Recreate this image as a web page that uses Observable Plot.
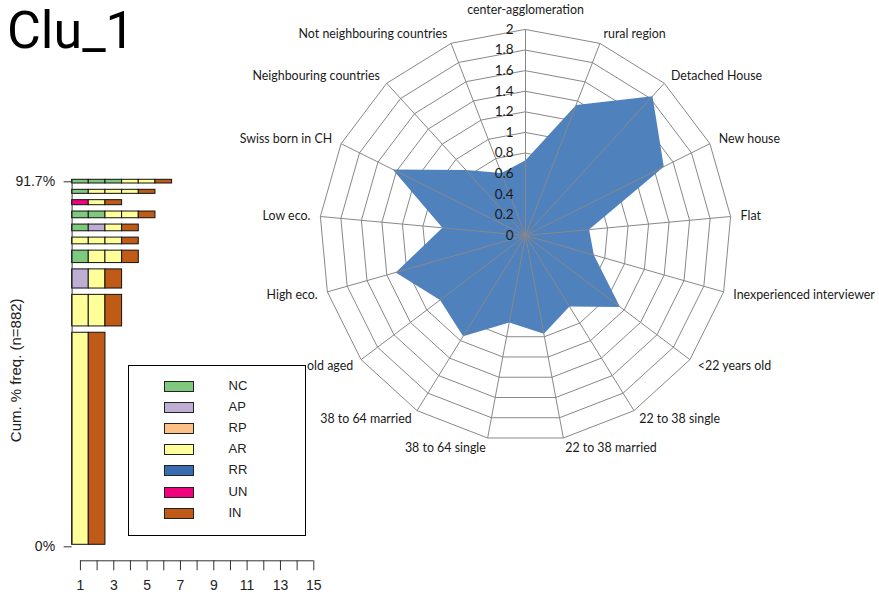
<!DOCTYPE html>
<html><head><meta charset="utf-8">
<script src="https://cdn.jsdelivr.net/npm/d3@7"></script>
<script src="https://cdn.jsdelivr.net/npm/@observablehq/plot@0.6"></script>
<style>
html,body{margin:0;padding:0;background:#fff;}
#root{position:relative;width:879px;height:599px;overflow:hidden;background:#fff;}
#root > *{position:absolute;}
#title{left:7px;top:0px;font-family:Roboto,Lato,sans-serif;font-size:52px;color:#000;line-height:normal;white-space:nowrap;}
#legend{left:127.5px;top:364.5px;width:176px;height:169px;border:1px solid #000;background:#fff;font-family:"Liberation Sans",Arial,sans-serif;font-size:13px;color:#222;}
#legend .item{position:absolute;left:35px;height:12px;}
#legend .sw{position:absolute;left:0;top:0;width:28px;height:9px;border:1px solid #222;}
#legend .lb{position:absolute;left:65px;top:-2px;line-height:14px;}
</style></head><body><div id="root"><div id="title"></div></div>
<script>
// ---- data ----
const title = "Clu_1";
const states = ["NC","AP","RP","AR","RR","UN","IN"];
const stateColors = ["#7FC97F","#BEAED4","#FDC086","#FFFF99","#386CB0","#F0027F","#BF5B17"];
const sequences = ["AR-IN","AR-AR-IN","AP-AR-IN","NC-AR-AR-IN","AR-AR-AR-IN","NC-AP-AR-IN","NC-NC-AR-AR-IN","UN-AR-IN","NC-AR-AR-AR-IN","NC-NC-NC-AR-AR-IN"];
const seqFreq = [63.1,9.4,5.7,3.7,2.0,2.0,2.0,1.5,1.2,1.1];
const nSeq = 882;
const xTicks = [1,2,3,4,5,6,7,8,9,10,11,12,13,14,15];
const radarAxes = ["center-agglomeration","rural region","Detached House","New house","Flat","Inexperienced interviewer","<22 years old","22 to 38 single","22 to 38 married","38 to 64 single","38 to 64 married","old aged","High eco.","Low eco.","Swiss born in CH","Neighbouring countries","Not neighbouring countries"];
const radarValues = [0.73,1.36,1.83,1.50,0.62,0.69,1.15,0.81,0.97,0.86,1.15,1.04,1.31,0.81,1.44,0.86,0.65];
const radarLevels = [0,0.2,0.4,0.6,0.8,1,1.2,1.4,1.6,1.8,2];

const root = document.getElementById("root");
document.getElementById("title").textContent = title;

// ---- sequence frequency plot ----
const gap = 1.88;
const cells = [];
let cum = 0;
sequences.forEach((s, i) => {
  const y1 = cum + i * gap;
  s.split("-").forEach((st, k) => cells.push({x1: k + 0.5, x2: k + 1.5, y1, y2: y1 + seqFreq[i], state: st}));
  cum += seqFreq[i];
});
const cumTotal = d3.sum(seqFreq);
const yTop = cumTotal + (sequences.length - 1) * gap;

const left = Plot.plot({
  width: 330, height: 599,
  marginLeft: 71.6, marginRight: 16.7, marginTop: 179.3, marginBottom: 54.7,
  style: {fontFamily: "'Liberation Sans', Arial, sans-serif", fontSize: "14px", color: "#222", background: "transparent", overflow: "visible"},
  x: {domain: [0.5, 15], axis: null},
  y: {domain: [0, yTop], axis: null},
  color: {domain: states, range: stateColors},
  marks: [
    Plot.rect(cells, {x1: "x1", x2: "x2", y1: "y1", y2: "y2", fill: "state", stroke: "#111", strokeWidth: 1}),
    Plot.ruleX([0.5], {y1: 0, y2: yTop, stroke: "#333"}),
    Plot.axisY([0, yTop], {tickSize: 8, tickPadding: 9, dy: 2, tickFormat: d => d === 0 ? "0%" : cumTotal.toFixed(1) + "%", label: null, stroke: "#333"}),
    Plot.ruleY([0], {x1: 1, x2: 15, dy: 16, stroke: "#333"}),
    Plot.axisX(xTicks, {tickSize: 10, tickPadding: 9, dy: 16, tickFormat: d => d % 2 ? String(d) : "", label: null, stroke: "#333"}),
    Plot.text([`Cum. % freq. (n=${nSeq})`], {frameAnchor: "left", textAnchor: "middle", rotate: -90, dx: -56, dy: 8, fontSize: 15, letterSpacing: 0.5})
  ]
});
left.style.left = "0px"; left.style.top = "0px";
root.appendChild(left);

// legend
const legend = document.createElement("div");
legend.id = "legend";
states.forEach((st, i) => {
  const it = document.createElement("div");
  it.className = "item";
  it.style.top = (15 + i * 21.2) + "px";
  it.innerHTML = `<div class="sw" style="background:${stateColors[i]}"></div><div class="lb">${st}</div>`;
  legend.appendChild(it);
});
root.appendChild(legend);

// ---- radar ----
const pxPerUnit = 103, cx = 295, cy = 235, W = 649, H = 599;
const n = radarAxes.length;
const ang = i => i * 2 * Math.PI / n;
const maxLevel = d3.max(radarLevels);
const ringPts = [];
radarLevels.filter(l => l > 0).forEach(l => radarAxes.forEach((a, i) => ringPts.push({level: l, x: l * Math.sin(ang(i)), y: l * Math.cos(ang(i))})));
const valPts = radarValues.map((v, i) => ({x: v * Math.sin(ang(i)), y: v * Math.cos(ang(i))}));
const spokes = radarAxes.map((a, i) => ({x: maxLevel * Math.sin(ang(i)), y: maxLevel * Math.cos(ang(i))}));
const lr = maxLevel + 10 / pxPerUnit;
const labels = radarAxes.map((a, i) => ({name: a, s: Math.sin(ang(i)), x: lr * Math.sin(ang(i)), y: lr * Math.cos(ang(i))}));

const radar = Plot.plot({
  width: W, height: H, margin: 0,
  style: {fontFamily: "Lato, 'Open Sans', sans-serif", fontSize: "12.4px", color: "#1a1a1a", background: "transparent", overflow: "visible"},
  x: {domain: [-cx / pxPerUnit, (W - cx) / pxPerUnit], range: [0, W], axis: null},
  y: {domain: [-(H - cy) / pxPerUnit, cy / pxPerUnit], range: [H, 0], axis: null},
  marks: [
    Plot.line(ringPts, {x: "x", y: "y", z: "level", curve: "linear-closed", stroke: "#888", strokeWidth: 1}),
    Plot.line(valPts, {x: "x", y: "y", curve: "linear-closed", fill: "#4F81BD", stroke: "none"}),
    Plot.link(spokes, {x1: 0, y1: 0, x2: "x", y2: "y", stroke: "#888", strokeWidth: 1}),
    Plot.text(radarLevels, {x: 0, y: d => d, text: d => String(+d.toFixed(1)), textAnchor: "end", dx: -12, fontSize: 13.5}),
    Plot.text(labels.filter(d => d.s > 0.01), {x: "x", y: "y", text: "name", textAnchor: "start"}),
    Plot.text(labels.filter(d => d.s < -0.01), {x: "x", y: "y", text: "name", textAnchor: "end"}),
    Plot.text(labels.filter(d => Math.abs(d.s) <= 0.01), {x: "x", y: "y", text: "name", textAnchor: "middle", dy: -9})
  ]
});
radar.style.left = "230px"; radar.style.top = "0px";
root.appendChild(radar);
</script></body></html>
